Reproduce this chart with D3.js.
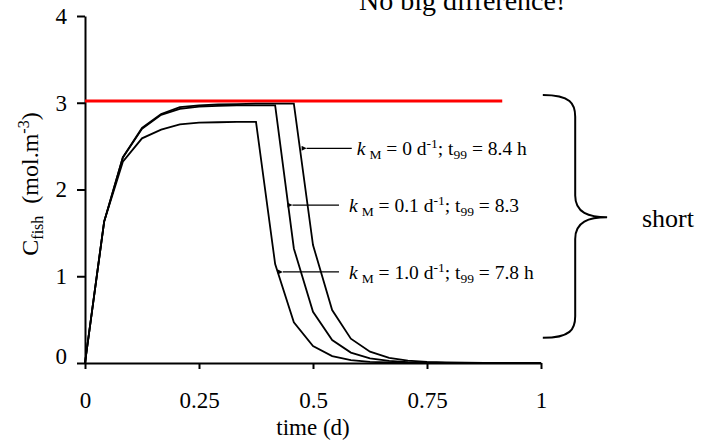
<!DOCTYPE html>
<html>
<head>
<meta charset="utf-8">
<script src="https://cdn.jsdelivr.net/npm/d3@7"></script>
<style>
  body { margin: 0; background: #fff; }
  svg { display: block; font-family: "Liberation Serif", "Times New Roman", serif; }
</style>
</head>
<body>
<div id="chart"></div>
<script>
// Chart data
var time = [0, 0.042, 0.083, 0.125, 0.167, 0.208, 0.25, 0.292, 0.333, 0.375, 0.417, 0.458,
            0.5, 0.542, 0.583, 0.625, 0.667, 0.708, 0.75, 0.792, 0.833, 0.875, 0.917, 0.958, 1];
var cKm0   = [0, 1.63, 2.37, 2.71, 2.87, 2.95, 2.97, 2.98, 2.985, 2.99, 2.99, 2.99,
              1.36, 0.61, 0.28, 0.13, 0.06, 0.027, 0.012, 0.006, 0.003, 0.001, 0.0005, 0, 0];
var cKm01  = [0, 1.63, 2.37, 2.70, 2.86, 2.93, 2.955, 2.965, 2.97, 2.97, 2.97, 1.32,
              0.59, 0.265, 0.12, 0.053, 0.024, 0.011, 0.005, 0.002, 0.001, 0, 0, 0, 0];
var cKm1   = [0, 1.63, 2.32, 2.59, 2.69, 2.75, 2.77, 2.775, 2.78, 2.78, 1.14, 0.47,
              0.196, 0.08, 0.033, 0.014, 0.006, 0.002, 0.001, 0, 0, 0, 0, 0, 0];

var xTicks = [0, 0.25, 0.5, 0.75, 1];
var xTickLabels = ["0", "0.25", "0.5", "0.75", "1"];
var yTicks = [0, 1, 2, 3, 4];
var yTickLabels = ["0", "1", "2", "3", "4"];

// horizontal reference (red) line
var refLevel = 3.02;
var refEnd = 0.915;

// annotations: arrow tip, arrow tail, level, label start
var notes = [
  { tip: 0.486, tail: 0.585, c: 2.475, tx: 0.596, km: "0",   t99: "8.4 h" },
  { tip: 0.455, tail: 0.557, c: 1.82,  tx: 0.579, km: "0.1", t99: "8.3" },
  { tip: 0.434, tail: 0.557, c: 1.05,  tx: 0.579, km: "1.0", t99: "7.8 h" }
];

var width = 703, height = 443;
var margin = { left: 85, right: 162, top: 16, bottom: 80 };

var svg = d3.select("#chart").append("svg")
    .attr("width", width)
    .attr("height", height);

var x = d3.scaleLinear()
    .domain([0, 1])
    .range([margin.left, width - margin.right]);

var y = d3.scaleLinear()
    .domain([0, 4])
    .range([height - margin.bottom, margin.top]);

// Axes
var xAxis = d3.axisBottom(x)
    .tickValues(xTicks)
    .tickFormat(function(d, i) { return xTickLabels[i]; })
    .tickSize(6)
    .tickSizeOuter(0)
    .tickPadding(23);

var yAxis = d3.axisLeft(y)
    .tickValues(yTicks)
    .tickFormat(function(d, i) { return yTickLabels[i]; })
    .tickSize(8)
    .tickSizeOuter(0)
    .tickPadding(10);

var gx = svg.append("g")
    .attr("transform", "translate(0," + y(0) + ")")
    .call(xAxis);

var gy = svg.append("g")
    .attr("transform", "translate(" + x(0) + ",0)")
    .call(yAxis);

[gx, gy].forEach(function(g) {
  g.selectAll("path.domain").attr("stroke", "#000").attr("stroke-width", 2);
  g.selectAll(".tick line").attr("stroke", "#000").attr("stroke-width", 2);
  g.selectAll(".tick text")
    .attr("fill", "#000")
    .style("font-family", "Liberation Serif, Times New Roman, serif")
    .style("font-size", "23px");
});
// the 0 label on the y axis sits on its tick
gy.selectAll(".tick text").filter(function(d) { return d === 0; }).attr("dy", "0");

// Axis titles
svg.append("text")
    .attr("x", x(0.5))
    .attr("y", 435)
    .attr("text-anchor", "middle")
    .style("font-size", "23px")
    .text("time (d)");

var yt = svg.append("text")
    .attr("transform", "translate(38,184) rotate(-90)")
    .attr("text-anchor", "middle")
    .style("font-size", "24px");
yt.append("tspan").text("C");
yt.append("tspan").attr("dy", 5).style("font-size", "16px").text("fish");
yt.append("tspan").attr("dy", -5).text("\u00a0 (mol.m");
yt.append("tspan").attr("dy", -9).style("font-size", "16px").text("-3");
yt.append("tspan").attr("dy", 9).text(")");

// Title, partly cut off at the top
svg.append("text")
    .attr("x", 359)
    .attr("y", 10)
    .style("font-size", "28px")
    .text("No big difference!");

// Red reference line
svg.append("line")
    .attr("x1", x(0))
    .attr("x2", x(refEnd))
    .attr("y1", y(refLevel))
    .attr("y2", y(refLevel))
    .attr("stroke", "#ff0000")
    .attr("stroke-width", 3);

// Curves
var line = d3.line()
    .x(function(d) { return x(d[0]); })
    .y(function(d) { return y(d[1]); });

[cKm0, cKm01, cKm1].forEach(function(series) {
  svg.append("path")
      .datum(d3.zip(time, series))
      .attr("fill", "none")
      .attr("stroke", "#000")
      .attr("stroke-width", 1.8)
      .attr("stroke-linejoin", "miter")
      .attr("d", line);
});

// Arrows and labels
svg.append("defs").append("marker")
    .attr("id", "head")
    .attr("viewBox", "0 0 10 10")
    .attr("refX", 0)
    .attr("refY", 5)
    .attr("markerWidth", 7)
    .attr("markerHeight", 5)
    .attr("markerUnits", "userSpaceOnUse")
    .attr("orient", "auto-start-reverse")
  .append("path")
    .attr("d", "M10,0 L0,5 L10,10 Z")
    .attr("fill", "#000");

notes.forEach(function(n) {
  svg.append("line")
      .attr("x1", x(n.tip))
      .attr("x2", x(n.tail))
      .attr("y1", y(n.c))
      .attr("y2", y(n.c))
      .attr("stroke", "#000")
      .attr("stroke-width", 1.2)
      .attr("marker-start", "url(#head)");

  var t = svg.append("text")
      .attr("x", x(n.tx))
      .attr("y", y(n.c) + 7)
      .style("font-size", "19.5px");
  t.append("tspan").style("font-style", "italic").text("k");
  t.append("tspan").attr("dx", 4).attr("dy", 4).style("font-size", "13.5px").text("M");
  t.append("tspan").attr("dy", -4).text(" = " + n.km + " d");
  t.append("tspan").attr("dy", -7).style("font-size", "13.5px").text("-1");
  t.append("tspan").attr("dy", 7).text("; t");
  t.append("tspan").attr("dy", 4).style("font-size", "13.5px").text("99");
  t.append("tspan").attr("dy", -4).text(" = " + n.t99);
});

// Curly brace marking the short exposure
var bTop = 3.09, bBot = 0.29, bMid = 1.68;
var bx0 = 1.004, bx1 = 1.075, bx2 = 1.145;
var p = d3.path();
p.moveTo(x(bx0), y(bTop));
p.bezierCurveTo(x(bx1 - 0.01), y(bTop), x(bx1), y(bTop - 0.1), x(bx1), y(bTop - 0.25));
p.lineTo(x(bx1), y(bMid + 0.25));
p.bezierCurveTo(x(bx1), y(bMid + 0.05), x(bx1 + 0.03), y(bMid), x(bx2), y(bMid));
p.bezierCurveTo(x(bx1 + 0.03), y(bMid), x(bx1), y(bMid - 0.05), x(bx1), y(bMid - 0.25));
p.lineTo(x(bx1), y(bBot + 0.25));
p.bezierCurveTo(x(bx1), y(bBot + 0.1), x(bx1 - 0.01), y(bBot), x(bx0), y(bBot));

svg.append("path")
    .attr("d", p.toString())
    .attr("fill", "none")
    .attr("stroke", "#000")
    .attr("stroke-width", 2);

svg.append("text")
    .attr("x", 642)
    .attr("y", 227)
    .style("font-size", "26px")
    .text("short");
</script>
</body>
</html>
